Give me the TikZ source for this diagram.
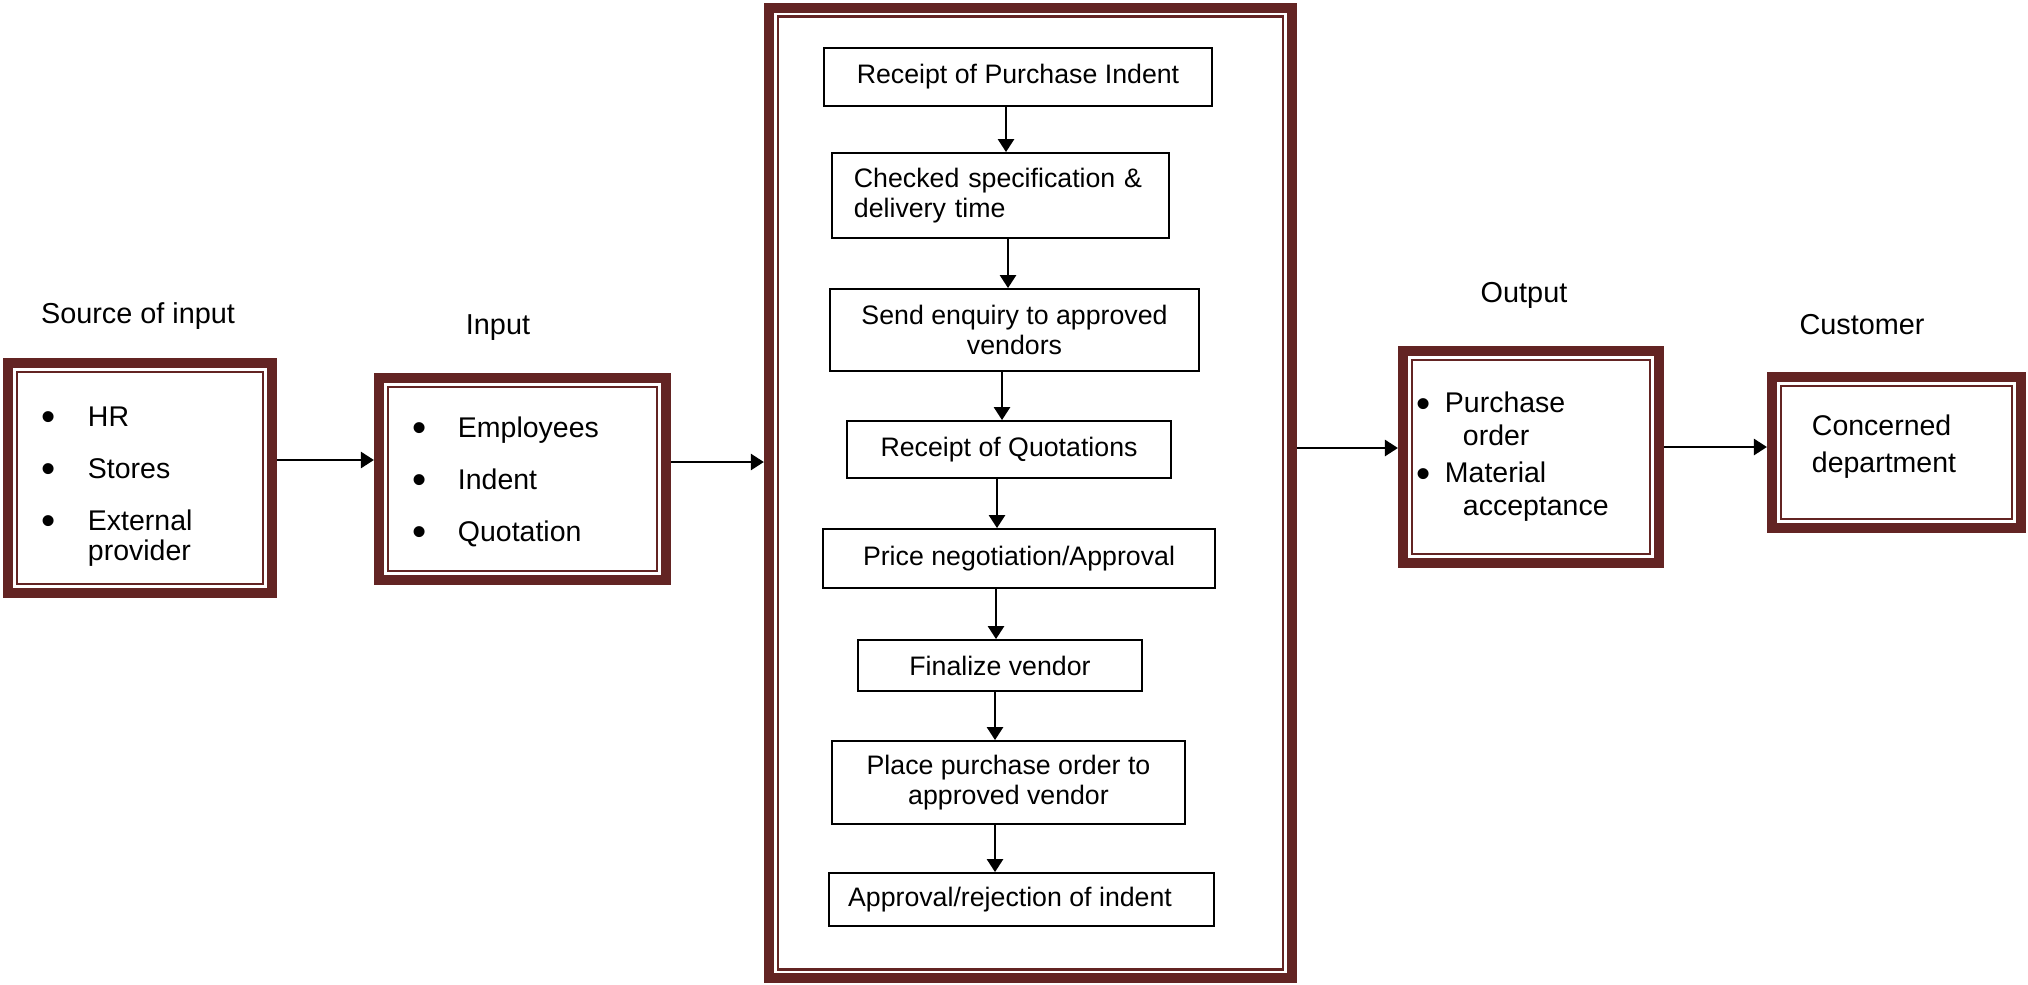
\documentclass[tikz,border=0pt]{standalone}
\usepackage{fontspec}
\setmainfont{Liberation Sans}
\usepackage{xcolor}
\usetikzlibrary{arrows.meta, positioning}
\definecolor{framered}{RGB}{99,36,35}
\newcommand{\bulitem}[2][0.46cm]{\makebox[#1][l]{\raisebox{-1.2pt}{\fontsize{11.5}{11.5}\selectfont\textbullet}}#2}

\begin{document}
\begin{tikzpicture}[x=0.01cm, y=-0.01cm,
    frame/.style={draw=framered, line width=0.1cm, inner sep=0, outer sep=0.05cm, align=left, font=\fontsize{8.1}{8.5}\selectfont},
    stepbox/.style={draw, line width=0.018cm, inner sep=0, align=center, font=\fontsize{7.6}{8.5}\selectfont},
    title/.style={font=\fontsize{8.2}{9}\selectfont},
    arr/.style={line width=0.026cm, -{Triangle[length=0.13cm, width=0.16cm]}}]
  \useasboundingbox (0,0) rectangle (2028,984);

  \node[frame, minimum width=2.64cm, minimum height=2.30cm, text width=1.96cm] (src) at (140,478) {
    \rule{0pt}{10.3pt}\bulitem{HR}\\[6.3pt]
    \bulitem{Stores}\\[6.3pt]
    \bulitem{External}\\
    \hspace*{0.46cm}provider
  };
  \node[frame, minimum width=2.87cm, minimum height=2.02cm, text width=2.19cm] (inp) at (522.5,479) {
    \rule{0pt}{7.5pt}\bulitem[0.45cm]{Employees}\\[6.3pt]
    \bulitem[0.45cm]{Indent}\\[6.3pt]
    \bulitem[0.45cm]{Quotation}
  };
  \node[frame, minimum width=5.23cm, minimum height=9.70cm] (main) at (1030.5,493) {};
  \node[frame, minimum width=2.56cm, minimum height=2.12cm, text width=2.28cm, font=\fontsize{8.1}{9.4}\selectfont] (out) at (1531,457) {
    \bulitem[0.28cm]{Purchase}\\
    \hspace*{0.46cm}order\\[1.1pt]
    \bulitem[0.28cm]{Material}\\
    \hspace*{0.46cm}acceptance
  };
  \node[frame, minimum width=2.49cm, minimum height=1.51cm, text width=1.69cm, font=\fontsize{8.1}{10.3}\selectfont] (cust) at (1896.5,452.5) {Concerned\\department\rule[-5pt]{0pt}{5pt}};

  \foreach \n in {src,inp,main,out,cust}
    \draw[framered, line width=0.026cm] ([shift={(14,14)}]\n.north west) rectangle ([shift={(-14,-14)}]\n.south east);

  \node[title] (srclbl) at (138,316) {Source of input};
  \node[title] (inplbl) at (498,328) {Input};
  \node[title] (outlbl) at (1524,295) {Output};
  \node[title] (custlbl) at (1862,325) {Customer};

  \node[stepbox, minimum width=3.88cm, minimum height=0.58cm] (f1) at (1018,77) {Receipt of Purchase Indent};
  \node[stepbox, minimum width=3.37cm, minimum height=0.85cm, text width=2.93cm, align=left] (f2) at (1000.5,195.5) {Checked specification \&\\delivery time};
  \node[stepbox, minimum width=3.69cm, minimum height=0.82cm] (f3) at (1014.5,330) {Send enquiry to approved\\vendors};
  \node[stepbox, minimum width=3.24cm, minimum height=0.57cm] (f4) at (1009,449.5) {Receipt of Quotations};
  \node[stepbox, minimum width=3.92cm, minimum height=0.59cm] (f5) at (1019,558.5) {Price negotiation/Approval};
  \node[stepbox, minimum width=2.84cm, minimum height=0.51cm] (f6) at (1000,665.5) {Finalize vendor};
  \node[stepbox, minimum width=3.53cm, minimum height=0.83cm] (f7) at (1008.5,782.5) {Place purchase order to\\approved vendor};
  \node[stepbox, minimum width=3.85cm, minimum height=0.53cm] (f8) at (1021.5,899.5) {Approval/rejection of indent\hspace*{0.23cm}};

  \foreach \a/\b/\ax in {f1/f2/1006, f2/f3/1008, f3/f4/1002, f4/f5/997, f5/f6/996, f6/f7/995, f7/f8/995}
    \draw[arr] (\a.south -| \ax,0) -- (\b.north -| \ax,0);

  \draw[arr] ([yshift=0.18cm]src.east) -- ([yshift=0.18cm]src.east -| inp.west);
  \draw[arr] ([yshift=0.17cm]inp.east) -- ([yshift=0.17cm]inp.east -| main.west);
  \draw[arr] ([yshift=0.09cm]out.west -| main.east) -- ([yshift=0.09cm]out.west);
  \draw[arr] ([yshift=0.055cm]cust.west -| out.east) -- ([yshift=0.055cm]cust.west);
\end{tikzpicture}
\end{document}
